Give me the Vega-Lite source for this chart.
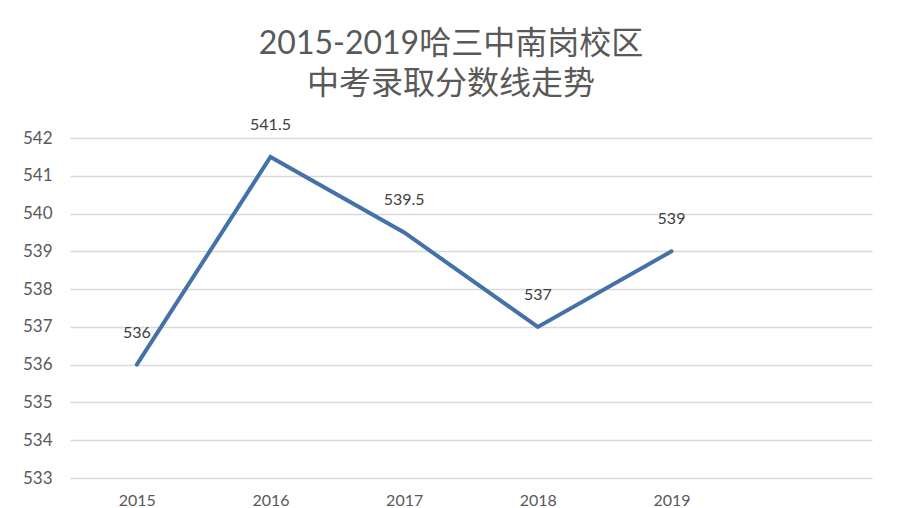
{
  "$schema": "https://vega.github.io/schema/vega-lite/v6.json",
  "autosize": "none",
  "padding": {"left": 70, "top": 138, "right": 28, "bottom": 30},
  "width": 802,
  "height": 340,
  "background": "white",
  "config": {"view": {"stroke": null}, "font": "Lato, Noto Sans CJK SC"},
  "title": {
    "text": ["2015-2019哈三中南岗校区", "中考录取分数线走势"],
    "font": "Lato, Noto Sans CJK SC",
    "fontSize": 32,
    "fontWeight": "normal",
    "color": "#595959",
    "anchor": "middle",
    "frame": "group",
    "dx": -20,
    "offset": 16,
    "lineHeight": 40
  },
  "data": {
    "values": [
      {"year": 2015, "score": 536, "label": "536"},
      {"year": 2016, "score": 541.5, "label": "541.5"},
      {"year": 2017, "score": 539.5, "label": "539.5"},
      {"year": 2018, "score": 537, "label": "537"},
      {"year": 2019, "score": 539, "label": "539"}
    ]
  },
  "encoding": {
    "x": {
      "field": "year",
      "type": "quantitative",
      "scale": {"domain": [2014.5, 2020.5], "nice": false, "zero": false},
      "axis": {
        "values": [2015, 2016, 2017, 2018, 2019],
        "format": "d",
        "title": null,
        "grid": false,
        "domain": false,
        "ticks": false,
        "labelFontSize": 16,
        "labelColor": "#595959",
        "labelPadding": 14,
        "labelFont": "Lato"
      }
    },
    "y": {
      "field": "score",
      "type": "quantitative",
      "scale": {"domain": [533, 542], "nice": false, "zero": false},
      "axis": {
        "values": [533, 534, 535, 536, 537, 538, 539, 540, 541, 542],
        "title": null,
        "domain": false,
        "ticks": false,
        "gridColor": "#d9d9d9",
        "gridWidth": 1.5,
        "labelFontSize": 17,
        "labelColor": "#595959",
        "labelPadding": 18,
        "labelFont": "Lato"
      }
    }
  },
  "layer": [
    {
      "mark": {"type": "line", "color": "#4472A8", "strokeWidth": 4, "strokeCap": "round"}
    },
    {
      "mark": {"type": "text", "dy": -32, "fontSize": 16, "color": "#404040", "font": "Lato"},
      "encoding": {"text": {"field": "label"}}
    }
  ]
}
